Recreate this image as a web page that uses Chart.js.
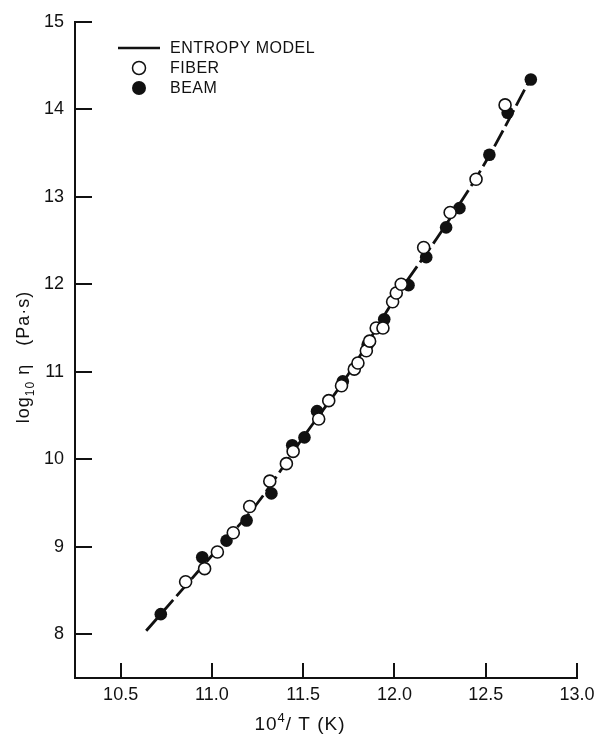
<!DOCTYPE html>
<html>
<head>
<meta charset="utf-8">
<script src="https://cdn.jsdelivr.net/npm/chart.js@4.4.1/dist/chart.umd.min.js"></script>
<style>
  html, body { margin: 0; padding: 0; background: #fff; }
  #wrap { width: 601px; height: 734px; position: relative; }
</style>
</head>
<body>
<div id="wrap"><canvas id="c" width="601" height="734"></canvas></div>
<script>
// Viscosity of glass vs reciprocal temperature
const fiberX = [10.856, 10.96, 11.03, 11.117, 11.207, 11.317, 11.408, 11.445, 11.585, 11.64, 11.71, 11.78, 11.80, 11.846, 11.864, 11.90, 11.937, 11.99, 12.01, 12.037, 12.16, 12.305, 12.447, 12.606];
const fiberY = [8.60, 8.75, 8.94, 9.16, 9.46, 9.75, 9.95, 10.09, 10.46, 10.67, 10.84, 11.03, 11.10, 11.24, 11.35, 11.50, 11.50, 11.80, 11.90, 12.00, 12.42, 12.82, 13.20, 14.05];

const beamX = [10.72, 10.947, 11.08, 11.19, 11.326, 11.44, 11.507, 11.576, 11.717, 11.853, 11.944, 12.077, 12.174, 12.283, 12.356, 12.52, 12.62, 12.747];
const beamY = [8.23, 8.88, 9.07, 9.30, 9.61, 10.16, 10.25, 10.55, 10.89, 11.31, 11.60, 11.99, 12.31, 12.65, 12.87, 13.48, 13.96, 14.34];

const modelX = [10.64, 10.72, 11.0, 11.25, 11.5, 11.75, 12.0, 12.25, 12.5, 12.75];
const modelY = [8.04, 8.23, 8.90, 9.50, 10.25, 10.98, 11.83, 12.58, 13.40, 14.37];

const xTicks = [10.5, 11.0, 11.5, 12.0, 12.5, 13.0];
const yTicks = [8, 9, 10, 11, 12, 13, 14, 15];

const legendItems = ['ENTROPY MODEL', 'FIBER', 'BEAM'];

const INK = '#111';
const FONT = "'Liberation Sans', 'DejaVu Sans', Arial, sans-serif";

const pts = (xs, ys) => xs.map((x, i) => ({ x: x, y: ys[i] }));

// Inward tick marks on both axes
const innerTicks = {
  id: 'innerTicks',
  afterDatasetsDraw(chart) {
    const { ctx, chartArea, scales } = chart;
    ctx.save();
    ctx.strokeStyle = INK;
    ctx.lineWidth = 2;
    ctx.beginPath();
    scales.x.ticks.forEach(t => {
      const px = Math.round(scales.x.getPixelForValue(t.value));
      ctx.moveTo(px, chartArea.bottom);
      ctx.lineTo(px, chartArea.bottom - 15);
    });
    scales.y.ticks.forEach(t => {
      const py = Math.round(scales.y.getPixelForValue(t.value));
      ctx.moveTo(chartArea.left, py);
      ctx.lineTo(chartArea.left + 17, py);
    });
    ctx.stroke();
    ctx.restore();
  }
};

// Draws a run of [text, size, shift] pieces left to right from x
function drawRuns(ctx, runs, x, y) {
  runs.forEach(([s, size, dy]) => {
    ctx.font = size + 'px ' + FONT;
    ctx.fillText(s, x, y + dy);
    x += ctx.measureText(s).width;
  });
}
function runsWidth(ctx, runs) {
  let w = 0;
  runs.forEach(([s, size]) => { ctx.font = size + 'px ' + FONT; w += ctx.measureText(s).width; });
  return w;
}

// Axis titles with true sub/superscripts
const axisTitles = {
  id: 'axisTitles',
  afterDraw(chart) {
    const { ctx } = chart;
    ctx.save();
    ctx.fillStyle = INK;
    ctx.textBaseline = 'alphabetic';
    ctx.textAlign = 'left';
    ctx.letterSpacing = '1px';

    const xRuns = [['10', 19, 0], ['4', 13, -8], ['/ T (K)', 19, 0]];
    const xw = runsWidth(ctx, xRuns);
    drawRuns(ctx, xRuns, 300 - xw / 2, 730);

    const yRuns = [['log', 18, 0], ['10', 12, 5], [' \u03b7   (Pa\u00b7s)', 18, 0]];
    const yw = runsWidth(ctx, yRuns);
    ctx.translate(29, 357);
    ctx.rotate(-Math.PI / 2);
    drawRuns(ctx, yRuns, -yw / 2, 0);
    ctx.restore();
  }
};

// Legend block in the upper left of the plot
const legendBlock = {
  id: 'legendBlock',
  afterDraw(chart) {
    const { ctx } = chart;
    ctx.save();
    ctx.font = '16px ' + FONT;
    ctx.letterSpacing = '0.5px';
    ctx.textBaseline = 'middle';
    ctx.textAlign = 'left';
    const rows = [48, 68, 88];
    ctx.strokeStyle = INK;
    ctx.lineWidth = 2.5;
    ctx.beginPath();
    ctx.moveTo(118, rows[0]);
    ctx.lineTo(160, rows[0]);
    ctx.stroke();
    ctx.lineWidth = 1.5;
    ctx.beginPath();
    ctx.arc(139, rows[1], 6.5, 0, Math.PI * 2);
    ctx.fillStyle = '#fff';
    ctx.fill();
    ctx.stroke();
    ctx.beginPath();
    ctx.arc(139, rows[2], 7, 0, Math.PI * 2);
    ctx.fillStyle = INK;
    ctx.fill();
    legendItems.forEach((s, i) => ctx.fillText(s, 170, rows[i] + 1));
    ctx.restore();
  }
};

new Chart(document.getElementById('c'), {
  type: 'scatter',
  data: {
    datasets: [
      {
        label: 'FIBER',
        data: pts(fiberX, fiberY),
        pointRadius: 6,
        pointBackgroundColor: '#fff',
        pointBorderColor: INK,
        pointBorderWidth: 1.6,
        order: 1
      },
      {
        label: 'BEAM',
        data: pts(beamX, beamY),
        pointRadius: 6.3,
        pointBackgroundColor: INK,
        pointBorderColor: INK,
        pointBorderWidth: 0,
        order: 2
      },
      {
        label: 'ENTROPY MODEL',
        data: pts(modelX, modelY),
        showLine: true,
        pointRadius: 0,
        borderColor: INK,
        borderWidth: 2.8,
        borderDash: [18, 5],
        cubicInterpolationMode: 'monotone',
        order: 3
      }
    ]
  },
  options: {
    responsive: false,
    animation: false,
    devicePixelRatio: 1,
    layout: { padding: { left: 0, top: 15, right: 24, bottom: 0 } },
    plugins: { legend: { display: false }, tooltip: { enabled: false } },
    scales: {
      x: {
        type: 'linear',
        min: 10.25,
        max: 13.0,
        afterBuildTicks: s => { s.ticks = xTicks.map(v => ({ value: v })); },
        afterFit: s => { s.height = 56; },
        grid: { display: false, drawTicks: false },
        border: { display: true, color: INK, width: 2 },
        ticks: {
          color: INK,
          padding: 6,
          font: { family: FONT, size: 18 },
          callback: v => Number(v).toFixed(1)
        }
      },
      y: {
        type: 'linear',
        min: 7.5,
        max: 15,
        afterBuildTicks: s => { s.ticks = yTicks.map(v => ({ value: v })); },
        afterFit: s => { s.width = 75; },
        grid: { display: false, drawTicks: false },
        border: { display: true, color: INK, width: 2 },
        ticks: {
          color: INK,
          padding: 11,
          font: { family: FONT, size: 18 },
          callback: v => String(v)
        }
      }
    }
  },
  plugins: [innerTicks, axisTitles, legendBlock]
});
</script>
</body>
</html>
